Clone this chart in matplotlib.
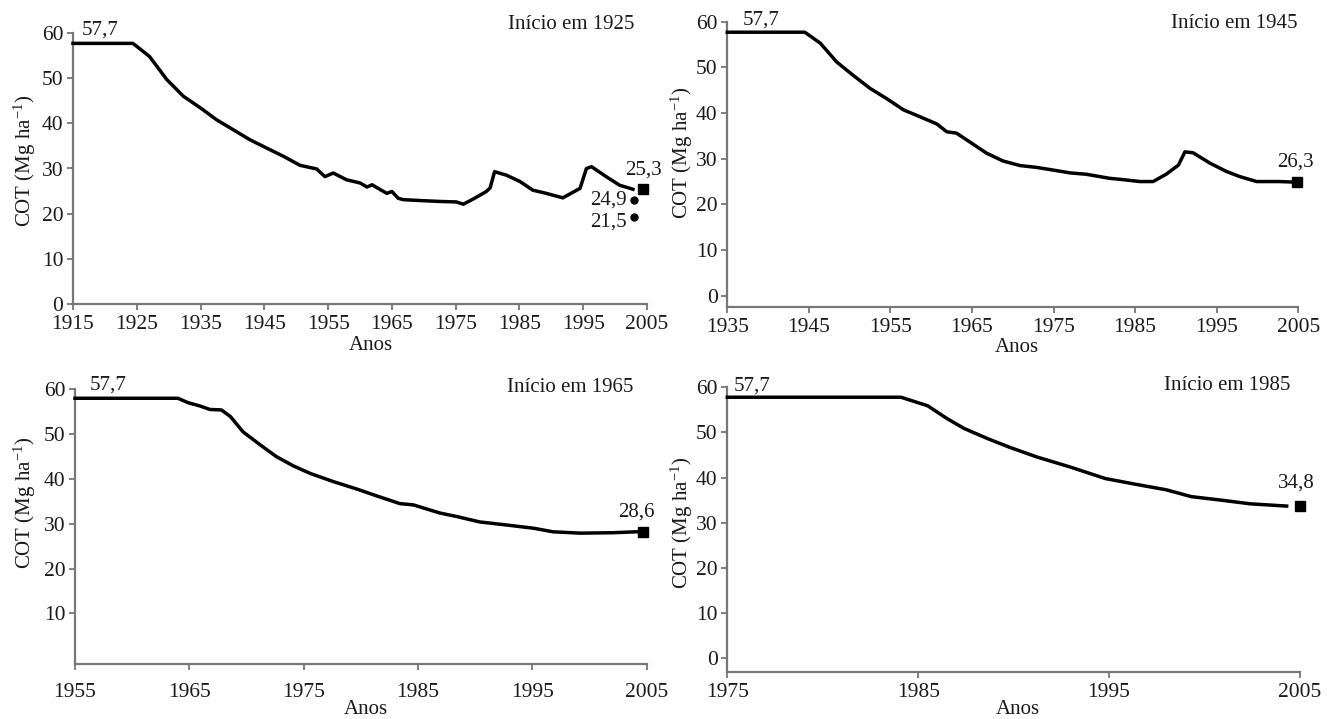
import matplotlib
matplotlib.use("Agg")
import matplotlib.pyplot as plt

plt.rcParams['font.family'] = ['Liberation Serif', 'DejaVu Serif']
plt.rcParams['mathtext.fontset'] = 'custom'
plt.rcParams['mathtext.rm'] = 'Liberation Serif'
plt.rcParams['mathtext.it'] = 'Liberation Serif:italic'

# ---------------- data ----------------
years1 = [1915, 1924.4, 1927, 1929.7, 1932.3, 1935, 1937.5, 1940.1, 1942.7, 1945.4, 1948, 1950.6,
          1953.2, 1954.5, 1955.8, 1957.9, 1960.0, 1961.1, 1961.9, 1963.2, 1964.2, 1965.0, 1966.0,
          1966.8, 1969.5, 1972.6, 1975.1, 1976.2, 1977.7, 1979.8, 1980.4, 1981.1, 1983, 1985.1,
          1987.1, 1989.2, 1991.8, 1994.5, 1995.5, 1996.3, 1998.6, 2000.7, 2002.8]
values1 = [57.7, 57.7, 54.8, 49.7, 46.0, 43.4, 40.8, 38.6, 36.4, 34.5, 32.7, 30.7,
           29.9, 28.2, 29.0, 27.5, 26.8, 25.9, 26.4, 25.3, 24.5, 24.9, 23.4,
           23.1, 22.9, 22.7, 22.6, 22.1, 23.2, 24.9, 25.7, 29.3, 28.5, 27.1,
           25.2, 24.5, 23.5, 25.6, 30.0, 30.4, 28.2, 26.3, 25.4]

years2 = [1935, 1944.5, 1946.4, 1948.4, 1950.4, 1952.5, 1954.5, 1956.6, 1958.6, 1960.7, 1961.9,
          1963.1, 1964.7, 1966.8, 1968.8, 1970.9, 1972.9, 1975, 1977, 1979, 1981.9, 1983.1,
          1985.6, 1987.2, 1988.8, 1990.3, 1991.1, 1992.1, 1994.2, 1996.2, 1997.8, 1999.9,
          2002.7, 2004.2]
values2 = [57.7, 57.7, 55.3, 51.2, 48.3, 45.4, 43.2, 40.7, 39.2, 37.6, 35.9,
           35.6, 33.7, 31.2, 29.5, 28.5, 28.1, 27.5, 26.9, 26.6, 25.7, 25.5,
           25.0, 25.0, 26.6, 28.6, 31.5, 31.3, 29.0, 27.2, 26.1, 25.0,
           25.0, 24.9]

years3 = [1955, 1964.0, 1964.9, 1965.9, 1966.8, 1967.8, 1968.6, 1969.7, 1971.2, 1972.6, 1974.1,
          1975.6, 1977.6, 1979.7, 1981.4, 1983.4, 1984.6, 1986.9, 1988.4, 1990.4, 1992.8,
          1995.1, 1996.8, 1999.2, 2002.1, 2004.1]
values3 = [58.0, 58.0, 57.0, 56.3, 55.5, 55.4, 53.9, 50.5, 47.6, 45.0, 42.9,
           41.2, 39.4, 37.7, 36.2, 34.5, 34.2, 32.4, 31.6, 30.4, 29.7,
           29.0, 28.2, 27.9, 28.0, 28.2]

years4 = [1975, 1984.1, 1985.5, 1986.5, 1987.4, 1988.6, 1989.8, 1991.2, 1993.0, 1994.8,
          1996.3, 1998.0, 1999.3, 2000.7, 2002.4, 2004.3]
values4 = [57.8, 57.8, 55.9, 53.1, 50.9, 48.7, 46.7, 44.6, 42.3, 39.8,
           38.6, 37.3, 35.8, 35.1, 34.2, 33.7]

# end-point markers (year, value) and their labels
square_x = [2004.4, 2004.8, 2004.7, 2005.0]
square_y = [25.4, 25.0, 28.1, 33.7]
square_lbl = ['25,3', '26,3', '28,6', '34,8']
circle_x = [2003.0, 2003.0]
circle_y = [23.0, 19.2]
circle_lbl = ['24,9', '21,5']

titles = ['Início em 1925', 'Início em 1945', 'Início em 1965', 'Início em 1985']
start_lbl = '57,7'
xstarts = [1915, 1935, 1955, 1975]
xticks_list = [[1915, 1925, 1935, 1945, 1955, 1965, 1975, 1985, 1995, 2005],
               [1935, 1945, 1955, 1965, 1975, 1985, 1995, 2005],
               [1955, 1965, 1975, 1985, 1995, 2005],
               [1975, 1985, 1995, 2005]]
yticks_list = [[0, 10, 20, 30, 40, 50, 60],
               [0, 10, 20, 30, 40, 50, 60],
               [10, 20, 30, 40, 50, 60],
               [0, 10, 20, 30, 40, 50, 60]]
ybottoms = [0, -2.4, -1.3, -3.1]

# ---------------- layout ----------------
W, H = 1327, 719
fig = plt.figure(figsize=(W / 100, H / 100), dpi=100)
fig.patch.set_facecolor('white')

# pixel boxes: left, right, top(at y=60), bottom(axis)
boxes = [(73, 647, 33, 304), (727.3, 1298.3, 21.7, 306.7),
         (75, 646.7, 389.3, 664), (727.3, 1300, 387.3, 672.3)]

axcol = '#777777'
txtcol = '#1a1a1a'
fs = 15
fs_tick = 15.5

series = [(years1, values1), (years2, values2), (years3, values3), (years4, values4)]

# label positions (data coords)
start_pos = [(1919.2, 60.6), (1939.1, 60.4), (1957.9, 60.9), (1976.3, 60.3)]
title_pos = [(1993.1, 61.9), (1997.2, 59.7), (1998.3, 60.5), (2001.2, 60.4)]
sq_lbl_pos = [(2004.5, 29.6), (2004.6, 29.3), (2004.1, 32.7), (2004.8, 38.8)]
anos_px = [(371, 345), (1017, 348), (366, 710), (1018, 710)]
ylab_px = [(25, 161), (682, 153), (25, 503), (682, 523)]

for i in range(4):
    l, r, t, b = boxes[i]
    ax = fig.add_axes([l / W, 1 - b / H, (r - l) / W, (b - t) / H])
    ax.set_facecolor('white')
    xs, ys = series[i]
    ax.plot(xs, ys, color='black', lw=2.5, solid_joinstyle='round', clip_on=False, zorder=3)
    ax.plot([square_x[i]], [square_y[i]], marker='s', ms=7.5, color='black', ls='none',
            clip_on=False, zorder=4)
    ax.set_xlim(xstarts[i], 2005)
    ax.set_ylim(ybottoms[i], 60)
    ax.set_xticks(xticks_list[i])
    ax.set_yticks(yticks_list[i])
    for sp in ['top', 'right']:
        ax.spines[sp].set_visible(False)
    for sp in ['left', 'bottom']:
        ax.spines[sp].set_color(axcol)
        ax.spines[sp].set_linewidth(1.6)
    ax.tick_params(axis='both', colors=axcol, labelcolor=txtcol, labelsize=fs_tick,
                   width=1.3, length=4, direction='out')
    ax.tick_params(axis='y', pad=3)
    ax.tick_params(axis='x', pad=4 if i != 2 else 10)

    ax.text(start_pos[i][0], start_pos[i][1], start_lbl, ha='center', va='center',
            fontsize=fs, color=txtcol, clip_on=False)
    ax.text(title_pos[i][0], title_pos[i][1], titles[i], ha='center', va='center',
            fontsize=fs, color=txtcol, clip_on=False)
    ax.text(sq_lbl_pos[i][0], sq_lbl_pos[i][1], square_lbl[i], ha='center', va='center',
            fontsize=fs, color=txtcol, clip_on=False)
    if i == 0:
        ax.plot(circle_x, circle_y, marker='o', ms=5, color='black', ls='none',
                clip_on=False, zorder=4)
        ax.text(2001.8, 23.0, circle_lbl[0], ha='right', va='center', fontsize=fs,
                color=txtcol)
        ax.text(2001.8, 18.1, circle_lbl[1], ha='right', va='center', fontsize=fs,
                color=txtcol)

    fig.text(anos_px[i][0] / W, 1 - anos_px[i][1] / H, 'Anos', ha='center', va='center',
             fontsize=fs, color=txtcol)
    fig.text(ylab_px[i][0] / W, 1 - ylab_px[i][1] / H, 'COT (Mg ha$^{-1}$)', ha='center',
             va='center', rotation=90, fontsize=fs, color=txtcol)

fig.savefig('out.png', dpi=100, facecolor='white')
